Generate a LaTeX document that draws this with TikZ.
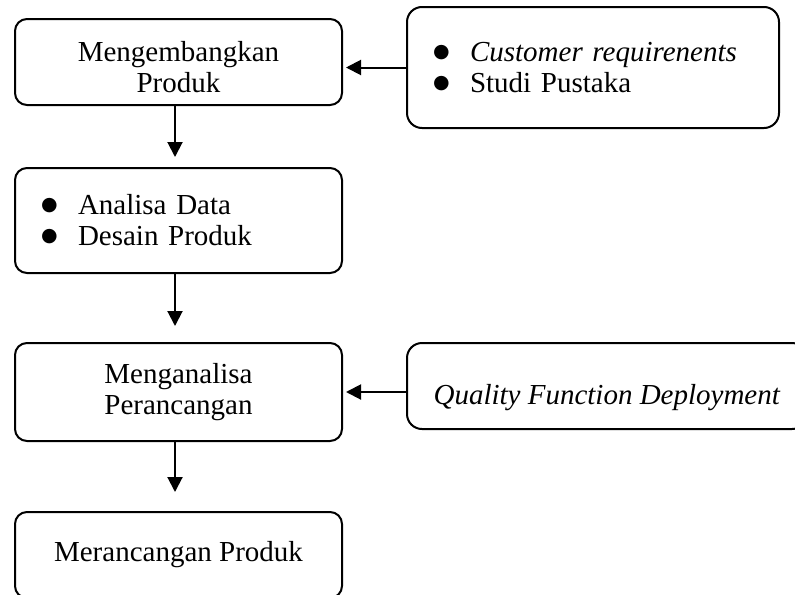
\documentclass[tikz,border=0pt]{standalone}
\usepackage{fontspec}
\setmainfont{Liberation Serif}
\newfontfamily\symfont{DejaVu Sans}
\usetikzlibrary{arrows.meta,positioning}
\newcommand{\itm}[1]{\makebox[18.5pt][l]{\raisebox{2pt}{\symfont\fontsize{9.5pt}{9.5pt}\selectfont ●}}#1}

\begin{document}
\begin{tikzpicture}[node distance=31.5pt, line width=1pt, font=\fontsize{14.5pt}{15.5pt}\selectfont]
    \tikzstyle{block} = [rectangle, draw, rounded corners=6pt, text centered, minimum width=163.5pt, inner sep=0pt]
    \tikzstyle{side} = [rectangle, draw, rounded corners=7.5pt, inner sep=0pt]
    \tikzstyle{line} = [draw, -{Triangle[length=7.5pt,width=7.5pt]}]

    \useasboundingbox (0,0) rectangle (397.5pt,-297pt);

    % alur utama
    \node [block, minimum height=43pt, align=center] (kembang) at (89.25pt,-31pt) {\rule{0pt}{15.5pt}Mengembangkan\\Produk};
    \node [block, minimum height=52.5pt, text width=137.5pt, inner xsep=13pt, align=left, below=30.5pt of kembang] (data) {\itm{Analisa Data}\\\itm{Desain Produk}};
    \node [block, minimum height=49pt, align=center, below=34pt of data] (analisa) {Menganalisa\\Perancangan};
    \node [block, minimum height=43pt, below=34.5pt of analisa] (rancang) {Merancangan Produk};

    % masukan
    \node [side, minimum height=60.5pt, text width=160pt, inner xsep=13pt, align=left, right=of kembang, yshift=-2.75pt] (pustaka) {\itm{\textit{Customer requirenents}}\\\itm{Studi Pustaka}};
    \node [side, minimum width=200pt, minimum height=43pt, text height=22pt, right=of analisa, yshift=3pt] (qfd) {\textit{Quality Function Deployment}};

    \path [line, shorten >=5pt] ([xshift=-1.75pt]kembang.south) -- ([xshift=-1.75pt]data.north);
    \path [line, shorten >=8pt] ([xshift=-1.75pt]data.south) -- ([xshift=-1.75pt]analisa.north);
    \path [line, shorten >=9.5pt] ([xshift=-1.75pt]analisa.south) -- ([xshift=-1.75pt]rancang.north);
    \path [line, shorten >=1.5pt] (pustaka.west) -- (pustaka.west -| kembang.east);
    \path [line, shorten >=1.5pt] (analisa.east -| qfd.west) -- (analisa.east);
\end{tikzpicture}
\end{document}
